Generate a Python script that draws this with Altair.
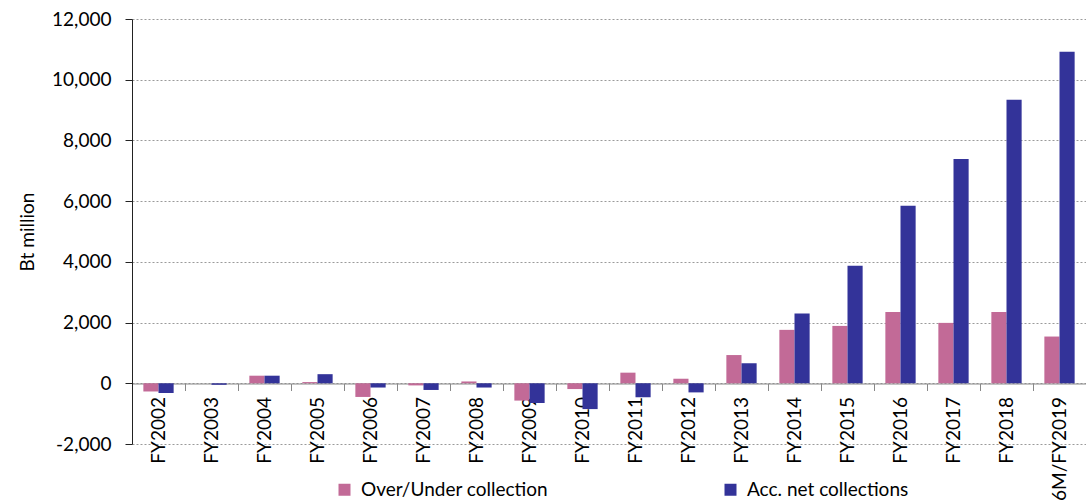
import altair as alt
import pandas as pd

categories = ["FY2002", "FY2003", "FY2004", "FY2005", "FY2006", "FY2007", "FY2008",
              "FY2009", "FY2010", "FY2011", "FY2012", "FY2013", "FY2014", "FY2015",
              "FY2016", "FY2017", "FY2018", "6M/FY2019"]
over_under = [-270, 0, 250, 40, -450, -70, 60, -570, -190, 350, 150, 930,
              1760, 1890, 2350, 1990, 2350, 1540]
acc_net = [-320, -50, 250, 300, -140, -220, -140, -650, -850, -460, -300, 660,
           2300, 3870, 5850, 7390, 9340, 10920]
series_names = ["Over/Under collection", "Acc. net collections"]
series_colors = ["#C26A97", "#333399"]
y_ticks = [-2000, 0, 2000, 4000, 6000, 8000, 10000, 12000]

rows = []
for i, c in enumerate(categories):
    rows.append({"cat": c, "series": series_names[0], "value": over_under[i]})
    rows.append({"cat": c, "series": series_names[1], "value": acc_net[i]})
df = pd.DataFrame(rows)

FONT = "Lato"

chart = alt.Chart(df).mark_bar().encode(
    x=alt.X("cat:N", sort=categories, title=None,
            scale=alt.Scale(paddingInner=0, paddingOuter=0),
            axis=alt.Axis(labelAngle=-90, labelAlign="right", labelBaseline="middle",
                          tickBand="extent", offset=-60.5, domainColor="#888888",
                          tickColor="#888888", tickSize=7, labelPadding=6,
                          labelFontSize=19, labelColor="black", labelFont=FONT,
                          grid=False, labelOverlap=False)),
    xOffset=alt.XOffset("series:N", sort=series_names,
                        scale=alt.Scale(paddingInner=0, paddingOuter=0.75)),
    y=alt.Y("value:Q", scale=alt.Scale(domain=[-2000, 12000], nice=False, zero=True),
            axis=alt.Axis(values=y_ticks, title="Bt million",
                          labelExpr="datum.value < 0 ? '-' + format(-datum.value, ',d') : format(datum.value, ',d')",
                          grid=True, gridDash=[2, 2], gridColor="#9a9a9a",
                          domainColor="#222222", tickColor="#222222", tickSize=7,
                          labelPadding=14, labelFontSize=19, labelFont=FONT,
                          labelColor="black", titleFont=FONT, titleFontSize=19,
                          titleFontWeight="normal", titleColor="black",
                          titlePadding=14)),
    color=alt.Color("series:N", sort=series_names,
                    scale=alt.Scale(domain=series_names, range=series_colors),
                    legend=alt.Legend(title=None, orient="none", legendX=203, legendY=461,
                                      direction="horizontal", columns=2,
                                      columnPadding=172, symbolType="square",
                                      symbolSize=144, symbolStrokeWidth=0,
                                      labelFontSize=19, labelFont=FONT, labelLimit=400,
                                      labelColor="black", labelOffset=7, padding=0)),
).properties(
    width=954, height=425,
    padding={"left": 132, "top": 19, "right": 0, "bottom": 57},
    autosize=alt.AutoSizeParams(type="none"),
).configure_view(stroke=None)

chart.save("out.html", embed_options={"renderer": "svg", "actions": False})
